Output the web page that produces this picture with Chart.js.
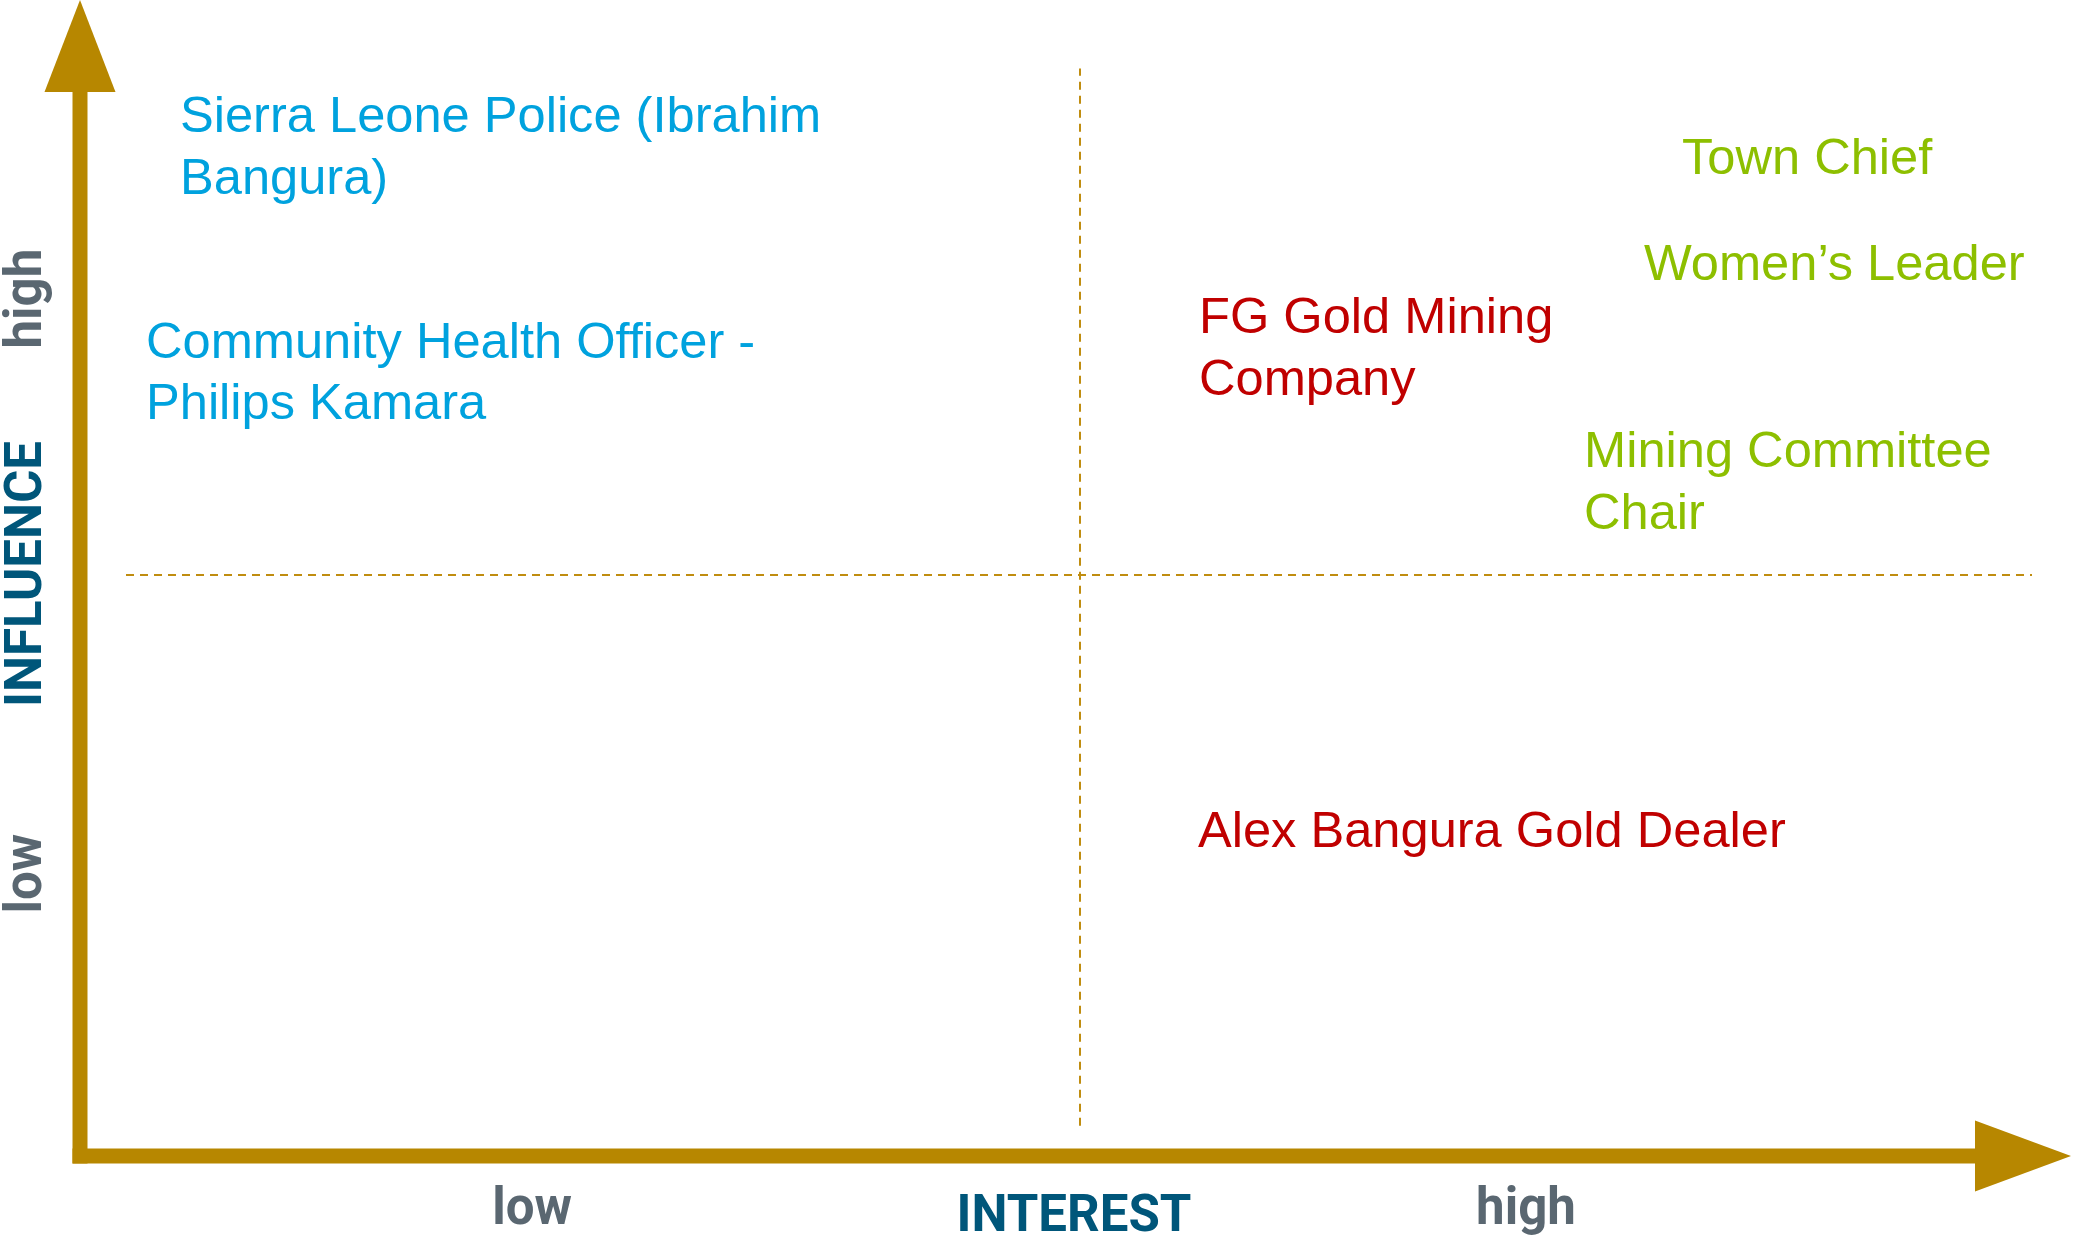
<!DOCTYPE html>
<html>
<head>
<meta charset="utf-8">
<script src="https://cdn.jsdelivr.net/npm/chart.js@4.4.1/dist/chart.umd.min.js"></script>
<style>
  html, body { margin: 0; padding: 0; background: #fff; }
  canvas { display: block; }
</style>
</head>
<body>
<canvas id="grid" width="2073" height="1239"></canvas>
<script>
  "use strict";

  // ---- Data ---------------------------------------------------------
  //
  // Stakeholder map: interest (x) vs influence (y), both on a 0–10 scale.
  // Each point is the top-left anchor (baseline of first line) of the label.

  const stakeholders = [
    ['Sierra Leone Police (Ibrahim', 'Bangura)'],
    ['Community Health Officer -', 'Philips Kamara'],
    ['FG Gold Mining', 'Company'],
    ['Town Chief'],
    ['Women\u2019s Leader'],
    ['Mining Committee', 'Chair'],
    ['Alex Bangura Gold Dealer'],
  ];
  const interest  = [0.50, 0.33, 5.595, 8.01, 7.82, 7.52, 5.59];
  const influence = [8.81, 6.87, 7.08, 8.45, 7.54, 5.93, 2.66];
  const groups    = ['blue', 'blue', 'red', 'green', 'green', 'green', 'red'];

  const xTickValues = [2.26, 4.97, 7.23];
  const xTickLabels = ['low', 'INTEREST', 'high'];
  const yTickValues = [2.43, 5.01, 7.38];
  const yTickLabels = ['low', 'INFLUENCE', 'high'];

  // axis extent: the arrow tips sit just short of 10 on both axes
  const X_MAX = 9.955;
  const Y_MAX = 9.95;
  const MID_INTEREST = 5;
  const MID_INFLUENCE = 5;
  const hDividerX = [0.23, 9.76];
  const vDividerY = [0.26, 9.36];

  // ---- Styles -------------------------------------------------------

  const GROUP_COLORS = { blue: '#00a2de', red: '#c00000', green: '#8dbf00' };
  const GOLD = '#b78700';
  const DASH_GOLD = '#c08d10';
  const GREY = '#5a6771';
  const TEAL = '#00567a';
  const LABEL_FONT = '50.6px "Liberation Sans", Arial, sans-serif';
  const AXIS_FONT = 'bold 51px Roboto, "Liberation Sans", sans-serif';
  const LINE_H = 61.5;

  // ---- Plugins ------------------------------------------------------

  // Gold axis arrows plus the low / title / high labels along each axis.
  const axisArrows = {
    id: 'axisArrows',
    afterDatasetsDraw(chart) {
      const ctx = chart.ctx;
      const sx = chart.scales.x, sy = chart.scales.y;
      const x0 = sx.getPixelForValue(0);
      const y0 = sy.getPixelForValue(0);
      const tipX = sx.getPixelForValue(X_MAX);
      const tipY = sy.getPixelForValue(Y_MAX);
      const shaft = 15, headLen = 96, headHalf = 35.5;

      ctx.save();
      ctx.fillStyle = GOLD;
      // vertical shaft + head
      const vBase = tipY + headLen - 4;
      ctx.fillRect(x0 - shaft / 2, vBase, shaft, y0 + shaft / 2 - vBase);
      ctx.beginPath();
      ctx.moveTo(x0, tipY);
      ctx.lineTo(x0 + headHalf, vBase);
      ctx.lineTo(x0 - headHalf, vBase);
      ctx.closePath();
      ctx.fill();
      // horizontal shaft + head
      ctx.fillRect(x0 - shaft / 2, y0 - shaft / 2, tipX - headLen - (x0 - shaft / 2), shaft);
      ctx.beginPath();
      ctx.moveTo(tipX, y0);
      ctx.lineTo(tipX - headLen, y0 - headHalf);
      ctx.lineTo(tipX - headLen, y0 + headHalf);
      ctx.closePath();
      ctx.fill();

      // x-axis labels
      ctx.font = AXIS_FONT;
      ctx.textAlign = 'center';
      ctx.textBaseline = 'alphabetic';
      xTickValues.forEach((v, i) => {
        const isTitle = i === 1;
        ctx.fillStyle = isTitle ? TEAL : GREY;
        ctx.fillText(xTickLabels[i], sx.getPixelForValue(v), y0 + (isTitle ? 75 : 68));
      });

      // y-axis labels, reading bottom to top
      yTickValues.forEach((v, i) => {
        const isTitle = i === 1;
        ctx.save();
        ctx.translate(41, sy.getPixelForValue(v));
        ctx.rotate(-Math.PI / 2);
        ctx.fillStyle = isTitle ? TEAL : GREY;
        ctx.fillText(yTickLabels[i], 0, 0);
        ctx.restore();
      });
      ctx.restore();
    },
  };

  // Draws each stakeholder name at its (interest, influence) point.
  const stakeholderLabels = {
    id: 'stakeholderLabels',
    afterDatasetsDraw(chart) {
      const ctx = chart.ctx;
      const meta = chart.getDatasetMeta(0);
      ctx.save();
      ctx.font = LABEL_FONT;
      ctx.textAlign = 'left';
      ctx.textBaseline = 'alphabetic';
      meta.data.forEach((el, i) => {
        ctx.fillStyle = GROUP_COLORS[groups[i]];
        stakeholders[i].forEach((line, j) => ctx.fillText(line, el.x, el.y + j * LINE_H));
      });
      ctx.restore();
    },
  };

  // ---- Chart --------------------------------------------------------

  const dividerStyle = {
    type: 'line',
    borderColor: DASH_GOLD,
    borderWidth: 2,
    borderDash: [8, 6],
    pointRadius: 0,
    fill: false,
  };

  new Chart(document.getElementById('grid'), {
    type: 'scatter',
    data: {
      datasets: [
        {
          label: 'stakeholders',
          data: interest.map((x, i) => ({ x, y: influence[i] })),
          pointRadius: 0,
          pointHoverRadius: 0,
        },
        Object.assign({ label: 'influence divider', data: hDividerX.map(x => ({ x, y: MID_INFLUENCE })) }, dividerStyle),
        Object.assign({ label: 'interest divider', data: vDividerY.map(y => ({ x: MID_INTEREST, y })) }, dividerStyle),
      ],
    },
    options: {
      responsive: false,
      animation: false,
      devicePixelRatio: 1,
      events: [],
      layout: { padding: { left: 80, right: 2, top: 0, bottom: 83 } },
      plugins: { legend: { display: false }, tooltip: { enabled: false } },
      scales: {
        x: { type: 'linear', min: 0, max: X_MAX, display: false },
        y: { type: 'linear', min: 0, max: Y_MAX, display: false },
      },
    },
    plugins: [axisArrows, stakeholderLabels],
  });
</script>
</body>
</html>
